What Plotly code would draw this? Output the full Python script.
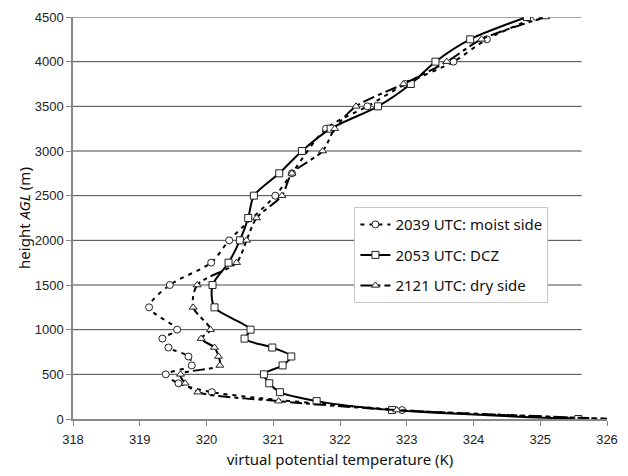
import plotly.graph_objects as go

# ---- data ----
h_moist = [0, 100, 300, 400, 500, 600, 700, 800, 900, 1000, 1250, 1500, 1750, 2000,
           2500, 2750, 3250, 3500, 3750, 4000, 4250, 4500]
t_moist = [326.1, 322.93, 320.08, 319.58, 319.39, 319.78, 319.73, 319.43, 319.34, 319.56,
           319.14, 319.45, 320.07, 320.34, 321.03, 321.28, 321.79, 322.41, 322.98, 323.70,
           324.20, 324.94]

h_dcz = [0, 100, 200, 300, 400, 500, 600, 700, 800, 900, 1000, 1250, 1500, 1750, 2000,
         2250, 2500, 2750, 3000, 3250, 3500, 3750, 4000, 4250, 4500]
t_dcz = [325.57, 322.78, 321.65, 321.10, 320.94, 320.86, 321.14, 321.27, 320.985, 320.57,
         320.66, 320.12, 320.09, 320.33, 320.50, 320.625, 320.71, 321.09, 321.43, 321.86,
         322.57, 323.06, 323.43, 323.95, 324.80]

h_dry = [0, 100, 200, 300, 400, 500, 600, 700, 800, 900, 1000, 1250, 1500, 1750, 2000,
         2250, 2500, 2750, 3000, 3250, 3500, 3750, 4000, 4250, 4500]
t_dry = [326.1, 322.85, 321.08, 319.87, 319.68, 319.61, 320.20, 320.18, 320.12, 319.92,
         320.06, 319.80, 319.86, 320.45, 320.60, 320.75, 321.13, 321.28, 321.74, 321.92,
         322.24, 322.95, 323.60, 324.12, 325.08]

names = ["2039 UTC: moist side", "2053 UTC: DCZ", "2121 UTC: dry side"]
x_ticks = [318, 319, 320, 321, 322, 323, 324, 325, 326]
y_ticks = [0, 500, 1000, 1500, 2000, 2500, 3000, 3500, 4000, 4500]
GRID_X_END = 325.62

fig = go.Figure()

series = [
    (t_moist, h_moist, names[0], "circle", "4px,5px", "g1"),
    (t_dcz, h_dcz, names[1], "square", "solid", "g2"),
    (t_dry, h_dry, names[2], "triangle-up", "12px,4px,4px,4px", "g3"),
]
for t, h, nm, sym, dash, grp in series:
    fig.add_trace(go.Scatter(
        x=t, y=h, name=nm, mode="lines+markers", legendgroup=grp,
        line=dict(color="black", width=2, dash=dash, shape="spline", smoothing=0.8),
        marker=dict(symbol=sym, size=7, color="white", line=dict(color="#222", width=1)),
        cliponaxis=True,
    ))

for yv in y_ticks[1:]:
    fig.add_shape(type="line", xref="x", yref="y", x0=x_ticks[0], x1=GRID_X_END,
                  y0=yv, y1=yv, line=dict(color="#444", width=1), layer="below")

fig.update_layout(
    width=628, height=476,
    margin=dict(l=73, r=15, t=10, b=54),
    paper_bgcolor="white", plot_bgcolor="white",
    font=dict(family="Liberation Sans, Arial", color="#222"),
    legend=dict(
        x=0.527, y=0.527, xanchor="left", yanchor="top",
        bgcolor="white", bordercolor="#c8c8c8", borderwidth=1,
        font=dict(family="Noto Sans", size=15, color="#111"),
        tracegroupgap=8, traceorder="grouped",
    ),
    showlegend=True,
)
fig.update_xaxes(
    range=[318, 326], tickvals=x_ticks, showgrid=False, zeroline=False,
    showline=True, linecolor="#888", linewidth=1.5,
    ticks="outside", ticklen=5, tickcolor="#888", ticklabelstandoff=3,
    tickfont=dict(size=13, family="Liberation Sans", color="#222"),
    title=dict(text="virtual potential temperature (K)",
               font=dict(family="Noto Sans", size=15, color="#111"), standoff=8),
)
fig.update_yaxes(
    range=[0, 4500], tickvals=y_ticks, showgrid=False, zeroline=False,
    showline=True, linecolor="#888", linewidth=1.5,
    ticks="outside", ticklen=5, tickcolor="#888",
    tickfont=dict(size=13, family="Liberation Sans", color="#222"),
    title=dict(text="height <i>AGL</i> (m)",
               font=dict(family="Noto Sans", size=15, color="#111"), standoff=0),
)

fig.write_html("out.html")
